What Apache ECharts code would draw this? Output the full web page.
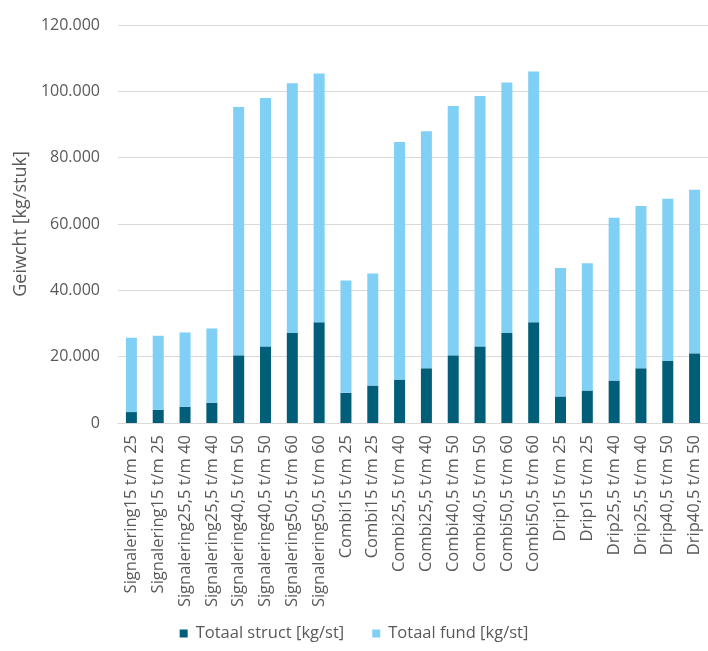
<!DOCTYPE html>
<html>
<head>
<meta charset="utf-8">
<title>Gewicht per type</title>
<script src="https://cdn.jsdelivr.net/npm/echarts@6/dist/echarts.min.js"></script>
<style>
  html, body { margin: 0; padding: 0; background: #fff; }
  #chart { width: 708px; height: 651px; }
</style>
</head>
<body>
<div id="chart"></div>
<script>
// Mast types (categories along the x-axis)
const categories = [
  'Signalering15 t/m 25', 'Signalering15 t/m 25',
  'Signalering25,5 t/m 40', 'Signalering25,5 t/m 40',
  'Signalering40,5 t/m 50', 'Signalering40,5 t/m 50',
  'Signalering50,5 t/m 60', 'Signalering50,5 t/m 60',
  'Combi15 t/m 25', 'Combi15 t/m 25',
  'Combi25,5 t/m 40', 'Combi25,5 t/m 40',
  'Combi40,5 t/m 50', 'Combi40,5 t/m 50',
  'Combi50,5 t/m 60', 'Combi50,5 t/m 60',
  'Drip15 t/m 25', 'Drip15 t/m 25',
  'Drip25,5 t/m 40', 'Drip25,5 t/m 40',
  'Drip40,5 t/m 50', 'Drip40,5 t/m 50'
];

// Structure weight per piece [kg/st]
const totaalStruct = [
  3300, 4000, 4900, 6100, 20400, 23100, 27100, 30400,
  9100, 11300, 13100, 16500, 20400, 23100, 27100, 30400,
  8000, 9800, 12800, 16500, 18700, 21000
];

// Foundation weight per piece [kg/st]
const totaalFund = [
  22400, 22300, 22400, 22400, 74900, 74900, 75300, 75000,
  33900, 33800, 71600, 71500, 75200, 75500, 75600, 75600,
  38700, 38400, 49100, 48900, 48900, 49300
];

const seriesNames = ['Totaal struct [kg/st]', 'Totaal fund [kg/st]'];
const yTicks = { min: 0, max: 120000, interval: 20000 };

const fontFamily = '"Open Sans", "Noto Sans", sans-serif';
const textColor = '#595959';
const lineColor = '#d9d9d9';

const chart = echarts.init(document.getElementById('chart'), null, { renderer: 'canvas' });

// Thousands separator with a dot
function fmt(v) {
  return String(v).replace(/\B(?=(\d{3})+(?!\d))/g, '.');
}

chart.setOption({
  animation: false,
  backgroundColor: '#ffffff',
  color: ['#005E78', '#80CFF5'],
  grid: { left: 118, right: -4, top: 25, bottom: 228 },
  legend: {
    bottom: 4,
    left: 'center',
    itemWidth: 8,
    itemHeight: 8,
    itemGap: 28,
    icon: 'rect',
    textStyle: { fontFamily, fontSize: 16.5, color: textColor, padding: [0, 0, 0, 3] },
    data: seriesNames
  },
  xAxis: {
    type: 'category',
    data: categories,
    axisLine: { show: true, lineStyle: { color: lineColor, width: 1 } },
    axisTick: { show: false },
    axisLabel: {
      rotate: 90,
      interval: 0,
      margin: 12,
      fontFamily,
      fontSize: 16.5,
      color: textColor
    }
  },
  yAxis: {
    type: 'value',
    min: yTicks.min,
    max: yTicks.max,
    interval: yTicks.interval,
    name: 'Geiwcht [kg/stuk]',
    nameLocation: 'middle',
    nameGap: 86,
    nameTextStyle: { fontFamily, fontSize: 18, color: textColor },
    axisLine: { show: false },
    axisTick: { show: false },
    splitLine: { lineStyle: { color: lineColor, width: 1 } },
    axisLabel: {
      margin: 18,
      fontFamily,
      fontSize: 16,
      color: textColor,
      formatter: fmt
    }
  },
  series: [
    {
      name: seriesNames[0],
      type: 'bar',
      stack: 'totaal',
      barWidth: 11,
      data: totaalStruct
    },
    {
      name: seriesNames[1],
      type: 'bar',
      stack: 'totaal',
      barWidth: 11,
      data: totaalFund
    }
  ]
});
</script>
</body>
</html>
